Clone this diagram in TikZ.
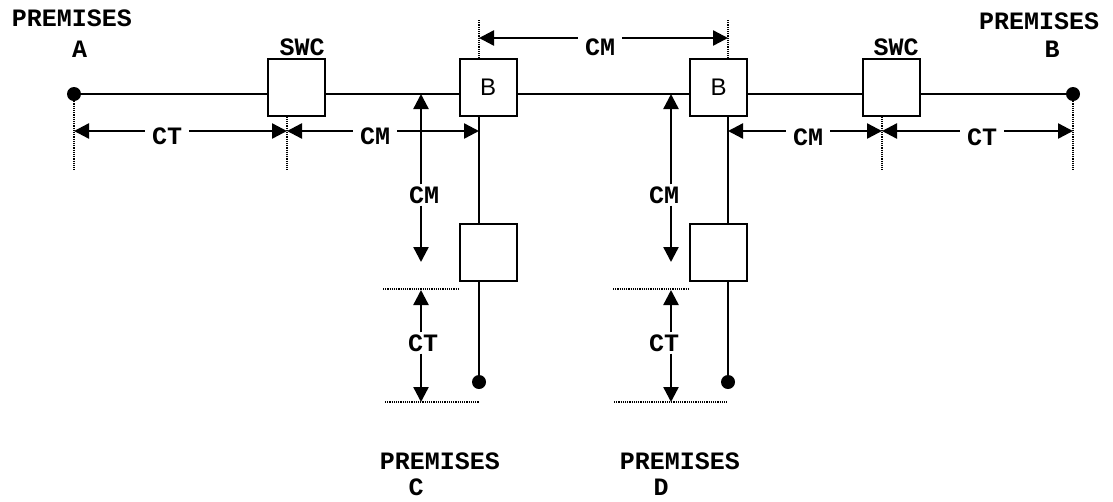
\documentclass[tikz,border=0pt]{standalone}
\usepackage{fontspec}
\setmonofont{Liberation Mono}
\setsansfont{Liberation Sans}
\usetikzlibrary{arrows.meta}

\tikzset{
  wire/.style={line width=2.4pt},
  unit/.style={draw, line width=2pt, fill=white, minimum size=57pt, inner sep=0pt,
    font=\sffamily\fontsize{24}{24}\selectfont},
  term/.style={circle, fill, inner sep=0pt, minimum size=14pt},
  dimline/.style={line width=2.4pt, -{Triangle[length=15pt,width=15pt]}},
  guide/.style={densely dotted, line width=1.2pt},
  lbl/.style={font=\fontsize{25}{27}\selectfont\ttfamily\bfseries, inner sep=0pt},
  dimlbl/.style={lbl, inner xsep=7pt, inner ysep=2pt},
}

\begin{document}
\begin{tikzpicture}[x=1pt, y=-1pt]
    \useasboundingbox (0, 0) rectangle (1113, 501);
    % line ends and units
    \node[term] (premA) at (74, 94) {};
    \node[term] (premB) at (1073, 94) {};
    \node[term] (premC) at (479, 382) {};
    \node[term] (premD) at (728, 382) {};
    \node[unit] (swcA) at (296, 87) {};
    \node[unit] (bA) at (488, 87) {B};
    \node[unit] (bB) at (718.5, 87) {B};
    \node[unit] (swcB) at (891.5, 87) {};
    \node[unit] (boxC) at (488, 252) {};
    \node[unit] (boxD) at (718.5, 252) {};

    % the wires
    \draw[wire] (premA) -- (swcA.west |- premA);
    \draw[wire] (swcA.east |- premA) -- (bA.west |- premA);
    \draw[wire] (bA.east |- premA) -- (bB.west |- premA);
    \draw[wire] (bB.east |- premA) -- (swcB.west |- premA);
    \draw[wire] (swcB.east |- premB) -- (premB);
    \draw[wire] (premC |- bA.south) -- (premC |- boxC.north);
    \draw[wire] (premC |- boxC.south) -- (premC);
    \draw[wire] (premD |- bB.south) -- (premD |- boxD.north);
    \draw[wire] (premD |- boxD.south) -- (premD);

    % texts
    \node[lbl] (tPremA) at (72, 18.5) {PREMISES};
    \node[lbl] (tA) at (79.5, 49) {A};
    \node[lbl] (tPremB) at (1039, 21) {PREMISES};
    \node[lbl] (tB) at (1052, 49) {B};
    \node[lbl] (tPremC) at (440, 461) {PREMISES};
    \node[lbl] (tC) at (416, 487) {C};
    \node[lbl] (tPremD) at (680, 461) {PREMISES};
    \node[lbl] (tD) at (661, 487) {D};
    \node[lbl] (tSwcA) at (302, 47) {SWC};
    \node[lbl] (tSwcB) at (896, 47) {SWC};

    % dimension ends
    \coordinate (topL) at (479, 38);
    \coordinate (topR) at (728, 38);
    \coordinate (hA) at (74, 131);
    \coordinate (hSwcA) at (287, 131);
    \coordinate (hBA) at (479, 131);
    \coordinate (hBB) at (728, 131);
    \coordinate (hSwcB) at (882, 131);
    \coordinate (hB) at (1073, 131);
    \coordinate (gA) at (74, 170);
    \coordinate (gSwcA) at (287, 170);
    \coordinate (gSwcB) at (882, 170);
    \coordinate (gB) at (1073, 170);
    \coordinate (vC1) at (421, 94);
    \coordinate (vC2) at (421, 262);
    \coordinate (vC3) at (421, 290);
    \coordinate (vC4) at (421, 402);
    \coordinate (vD1) at (671, 94);
    \coordinate (vD2) at (671, 262);
    \coordinate (vD3) at (671, 290);
    \coordinate (vD4) at (671, 402);

    % dotted guides
    \draw[guide] (premA) -- (gA);
    \draw[guide] (gSwcA |- swcA.south) -- (gSwcA);
    \draw[guide] (gSwcB |- swcB.south) -- (gSwcB);
    \draw[guide] (premB) -- (gB);
    \draw[guide] (479, 20) -- (topL |- bA.north);
    \draw[guide] (728, 20) -- (topR |- bB.north);
    \draw[guide] (383, 289) -- (boxC.west |- 0, 289);
    \draw[guide] (385, 402) -- (premC |- vC4);
    \draw[guide] (613, 289) -- (boxD.west |- 0, 289);
    \draw[guide] (614, 402) -- (premD |- vD4);

    % dimensions
    \node[dimlbl] (cmTop) at (600, 47.5) {CM};
    \draw[dimline] (cmTop.west |- topL) -- (topL);
    \draw[dimline] (cmTop.east |- topR) -- (topR);

    \node[dimlbl] (ctA) at (167, 136) {CT};
    \draw[dimline] (ctA.west |- hA) -- (hA);
    \draw[dimline] (ctA.east |- hSwcA) -- (hSwcA);
    \node[dimlbl] (cmA) at (375, 136) {CM};
    \draw[dimline] (cmA.west |- hSwcA) -- (hSwcA);
    \draw[dimline] (cmA.east |- hBA) -- (hBA);
    \node[dimlbl] (cmB) at (808, 137) {CM};
    \draw[dimline] (cmB.west |- hBB) -- (hBB);
    \draw[dimline] (cmB.east |- hSwcB) -- (hSwcB);
    \node[dimlbl] (ctB) at (982, 137) {CT};
    \draw[dimline] (ctB.west |- hSwcB) -- (hSwcB);
    \draw[dimline] (ctB.east |- hB) -- (hB);

    \node[dimlbl] (cmC) at (424, 195) {CM};
    \draw[dimline] (cmC.north -| vC1) -- (vC1);
    \draw[dimline] (cmC.south -| vC2) -- (vC2);
    \node[dimlbl] (ctC) at (423, 343) {CT};
    \draw[dimline] (ctC.north -| vC3) -- (vC3);
    \draw[dimline] (ctC.south -| vC4) -- (vC4);
    \node[dimlbl] (cmD) at (664, 195) {CM};
    \draw[dimline] (cmD.north -| vD1) -- (vD1);
    \draw[dimline] (cmD.south -| vD2) -- (vD2);
    \node[dimlbl] (ctD) at (664, 343) {CT};
    \draw[dimline] (ctD.north -| vD3) -- (vD3);
    \draw[dimline] (ctD.south -| vD4) -- (vD4);
\end{tikzpicture}
\end{document}
